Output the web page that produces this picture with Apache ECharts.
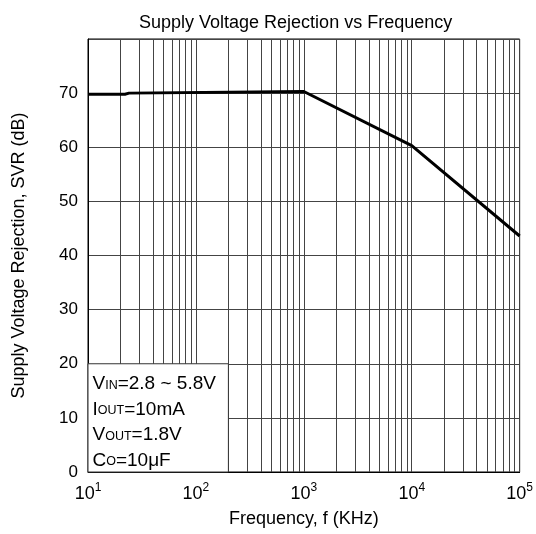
<!DOCTYPE html>
<html>
<head>
<meta charset="utf-8">
<script src="https://cdn.jsdelivr.net/npm/echarts@6/dist/echarts.min.js"></script>
<style>
html,body{margin:0;padding:0;background:#fff;}
#c{width:536px;height:534px;}
</style>
</head>
<body>
<div id="c"></div>
<script>
// Data
const freqKHz = [10, 22, 24, 1000, 10000, 100000];
const svrDb   = [69.8, 69.8, 70.0, 70.3, 60.3, 43.6];
const minorGridFreqs = [20,30,40,50,60,70,80,90,
  200,300,400,500,600,700,800,900,
  2000,3000,4000,5000,6000,7000,8000,9000,
  20000,30000,40000,50000,60000,70000,80000,90000];
const yTicks = [0,10,20,30,40,50,60,70];
const conditionBox = {x0: 10, x1: 200, y0: 0, y1: 20};
const conditionLines = [
  ['V','IN','=2.8 ~ 5.8V'],
  ['I','OUT','=10mA'],
  ['V','OUT','=1.8V'],
  ['C','O','=10\u03bcF']
];
const titleText = 'Supply Voltage Rejection vs Frequency';
const xName = 'Frequency, f (KHz)';
const yName = 'Supply Voltage Rejection, SVR (dB)';

const FONT = "Arial, 'Liberation Sans', sans-serif";
const chart = echarts.init(document.getElementById('c'), null, {renderer:'canvas'});
const lineData = freqKHz.map((f,i)=>[f, svrDb[i]]);
const gridColor = '#444';

chart.setOption({
  animation: false,
  backgroundColor: '#fff',
  title: {
    text: titleText, left: 134, top: 9,
    textStyle: {fontFamily: FONT, fontSize: 18, fontWeight: 'normal', color: '#000'}
  },
  grid: {left: 88, right: 13, top: 39, bottom: 62, show: true, borderColor: '#000', borderWidth: 1, backgroundColor: '#fff'},
  xAxis: {
    type: 'log', logBase: 10, min: 10, max: 100000,
    name: xName, nameLocation: 'middle', nameGap: 38, nameMoveOverlap: false,
    nameTextStyle: {fontFamily: FONT, fontSize: 18, color: '#000', verticalAlign: 'top'},
    axisLine: {lineStyle: {color: '#000', width: 1}},
    axisTick: {show: false},
    axisLabel: {
      margin: 10,
      formatter: function(v){ const e = Math.round(Math.log10(v)); return '{b|10}{e|' + e + '}'; },
      rich: {
        b: {fontFamily: FONT, fontSize: 18, color: '#000', verticalAlign: 'middle', lineHeight: 24},
        e: {fontFamily: FONT, fontSize: 12, color: '#000', verticalAlign: 'top', lineHeight: 10}
      }
    },
    splitLine: {show: true, lineStyle: {color: gridColor, width: 1}}
  },
  yAxis: {
    type: 'value', min: 0, max: 80, interval: 10,
    name: yName, nameLocation: 'middle', nameGap: 60, nameRotate: 90, nameMoveOverlap: false,
    nameTextStyle: {fontFamily: FONT, fontSize: 18, color: '#000'},
    axisLine: {show: true, lineStyle: {color: '#000', width: 1}},
    axisTick: {show: false},
    axisLabel: {
      margin: 10, fontFamily: FONT, fontSize: 17, color: '#000',
      formatter: function(v){ return yTicks.indexOf(v) >= 0 ? String(v) : ''; }
    },
    splitLine: {show: true, lineStyle: {color: gridColor, width: 1}}
  },
  series: [
    {
      type: 'line', data: [], z: 1, silent: true,
      markLine: {
        silent: true, symbol: ['none','none'], animation: false, z: 1,
        label: {show: false},
        lineStyle: {color: gridColor, width: 1, type: 'solid'},
        data: minorGridFreqs.map(v => ({xAxis: v}))
      }
    },
    {
      type: 'line', data: [], z: 10, silent: true,
      markArea: {
        silent: true, z: 10,
        itemStyle: {color: '#fff', borderColor: '#333', borderWidth: 1, opacity: 1},
        label: {
          show: true, position: 'insideTopLeft', distance: 5,
          formatter: conditionLines.map(l => '{m|' + l[0] + '}{s|' + l[1] + '}{m|' + l[2] + '}').join('\n'),
          rich: {
            m: {fontFamily: FONT, fontSize: 19, color: '#000', lineHeight: 25.5, verticalAlign: 'bottom'},
            s: {fontFamily: FONT, fontSize: 12.5, color: '#000', lineHeight: 25.5, verticalAlign: 'bottom', padding: [0,0,2,0]}
          }
        },
        data: [[{xAxis: conditionBox.x0, yAxis: conditionBox.y0}, {xAxis: conditionBox.x1, yAxis: conditionBox.y1}]]
      }
    },
    {
      type: 'line', z: 20, data: lineData, symbol: 'none', smooth: false,
      lineStyle: {color: '#000', width: 3}
    }
  ]
});
</script>
</body>
</html>
